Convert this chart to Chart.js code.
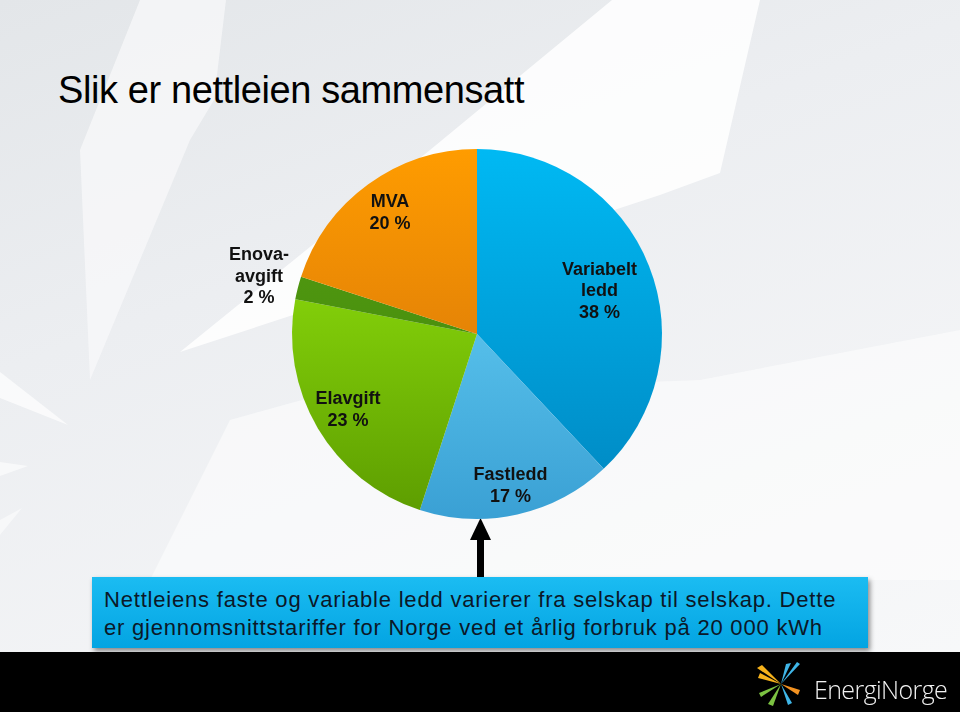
<!DOCTYPE html>
<html>
<head>
<meta charset="utf-8">
<script src="https://cdn.jsdelivr.net/npm/chart.js@4.4.1/dist/chart.umd.min.js"></script>
<style>
  html, body { margin: 0; padding: 0; }
  body {
    width: 960px; height: 712px; overflow: hidden; position: relative;
    font-family: "Liberation Sans", Arial, sans-serif;
    background: linear-gradient(160deg, #e3e6e9 0%, #eceef1 35%, #f3f4f6 70%, #f8f9fa 100%);
  }
  #bg { position: absolute; left: 0; top: 0; }
  h1 {
    position: absolute; left: 58px; top: 69px; margin: 0;
    font-weight: normal; font-size: 38px; color: #000; letter-spacing: -0.4px;
  }
  #wrap { position: absolute; left: 177px; top: 134px; width: 600px; height: 400px; }
  #arrow { position: absolute; left: 0; top: 0; }
  .note {
    position: absolute; left: 92px; top: 577px; width: 776px; height: 71px;
    background: linear-gradient(180deg, #1bbcf2 0%, #03a4e2 100%);
    box-shadow: 2px 3px 5px rgba(0,0,0,0.45);
    box-sizing: border-box; padding: 9px 0 0 12px;
    font-size: 22px; letter-spacing: 0.8px; line-height: 28px; color: #0b1828;
    white-space: nowrap;
  }
  .footer { position: absolute; left: 0; top: 652px; width: 960px; height: 60px; background: #000; }
  .brand {
    position: absolute; left: 814px; top: 672px; color: #f2f2f2;
    font-family: "Open Sans", sans-serif; font-weight: 300; font-size: 25px; letter-spacing: -0.6px;
  }
</style>
</head>
<body>
<svg id="bg" width="960" height="712">
  <polygon points="140,0 226,0 214,100 190,140 90,380 80,150" fill="#f9fafb" opacity="0.7"/>
  <polygon points="612,0 760,0 720,173 660,195 180,352 430,150" fill="#ffffff" opacity="0.85"/>
  <polygon points="150,580 230,420 320,395 700,380 960,330 960,580" fill="#fdfdfe" opacity="0.6"/>
  <polygon points="0,372 68,425 0,398" fill="#ffffff" opacity="0.7"/>
  <polygon points="0,462 28,466 0,476" fill="#ffffff" opacity="0.6"/>
  <polygon points="0,520 22,508 0,535" fill="#ffffff" opacity="0.5"/>
</svg>
<h1>Slik er nettleien sammensatt</h1>
<svg id="arrow" width="960" height="712">
  <rect x="477" y="536" width="7" height="42" fill="#000"/>
  <polygon points="480.5,518 470,540 491,540" fill="#000"/>
</svg>
<div id="wrap"><canvas id="pie"></canvas></div>
<div class="note">Nettleiens faste og variable ledd varierer fra selskap til selskap. Dette<br>er gjennomsnittstariffer for Norge ved et årlig forbruk på 20 000 kWh</div>
<div class="footer"></div>
<svg id="logo" width="960" height="712" style="position:absolute;left:0;top:0">
  <polygon points="781,684 757,668 762,665" fill="#f6b21b"/>
  <polygon points="781,684 758,678 760,673" fill="#f6b21b"/>
  <polygon points="781,684 797,662 800,664" fill="#3fb6e8"/>
  <polygon points="781,684 786,664 791,663" fill="#3fb6e8"/>
  <polygon points="781,684 773,706 768,704" fill="#7cc242"/>
  <polygon points="781,684 761,697 759,693" fill="#7cc242"/>
  <polygon points="781,684 800,690 798,695" fill="#f39221"/>
  <polygon points="781,684 792,703 788,705" fill="#3fb6e8"/>
</svg>
<div class="brand">EnergiNorge</div>
<script>
const labels = [['Variabelt', 'ledd'], ['Fastledd'], ['Elavgift'], ['Enova-', 'avgift'], ['MVA']];
const shares = [38, 17, 23, 2, 20];

const gradStops = [
  ['#00b9f3', '#0086c0'],
  ['#70ddff', '#3aa0d4'],
  ['#9cf010', '#5c9c00'],
  ['#56a014', '#3f8208'],
  ['#ff9c00', '#cc6c0c']
];

// where each label sits: fraction of the radius, nudges in px
const labelPlace = [
  { r: 0.70, dx: 2, dy: 5 },
  { r: 0.83, dx: 0, dy: 2 },
  { r: 0.81, dx: 0, dy: 0 },
  { r: 1.20, dx: -3, dy: -2 },
  { r: 0.80, dx: 0, dy: -1 }
];

const sliceLabels = {
  id: 'sliceLabels',
  afterDatasetsDraw(chart) {
    const ctx = chart.ctx;
    const meta = chart.getDatasetMeta(0);
    ctx.save();
    ctx.fillStyle = '#111';
    ctx.font = 'bold 18px "Liberation Sans", Arial, sans-serif';
    ctx.textBaseline = 'middle';
    ctx.textAlign = 'center';
    meta.data.forEach((arc, i) => {
      const mid = (arc.startAngle + arc.endAngle) / 2;
      const p = labelPlace[i];
      const rr = arc.outerRadius * p.r;
      const x = arc.x + Math.cos(mid) * rr + p.dx;
      const y = arc.y + Math.sin(mid) * rr + p.dy;
      const lines = labels[i].concat([shares[i] + ' %']);
      const lh = 21.5;
      lines.forEach((t, k) => {
        ctx.fillText(t, x, y + (k - (lines.length - 1) / 2) * lh);
      });
    });
    ctx.restore();
  }
};

new Chart(document.getElementById('pie'), {
  type: 'pie',
  data: {
    labels: labels.map(l => l.join(' ')),
    datasets: [{
      data: shares,
      borderWidth: 0,
      backgroundColor: (c) => {
        const area = c.chart.chartArea;
        if (!area) return gradStops[c.dataIndex][0];
        const g = c.chart.ctx.createLinearGradient(0, area.top, 0, area.bottom);
        g.addColorStop(0, gradStops[c.dataIndex][0]);
        g.addColorStop(1, gradStops[c.dataIndex][1]);
        return g;
      }
    }]
  },
  options: {
    responsive: true,
    maintainAspectRatio: false,
    animation: false,
    layout: { padding: { top: 15, bottom: 15 } },
    plugins: {
      legend: { display: false },
      tooltip: { enabled: false }
    }
  },
  plugins: [sliceLabels]
});
</script>
</body>
</html>
